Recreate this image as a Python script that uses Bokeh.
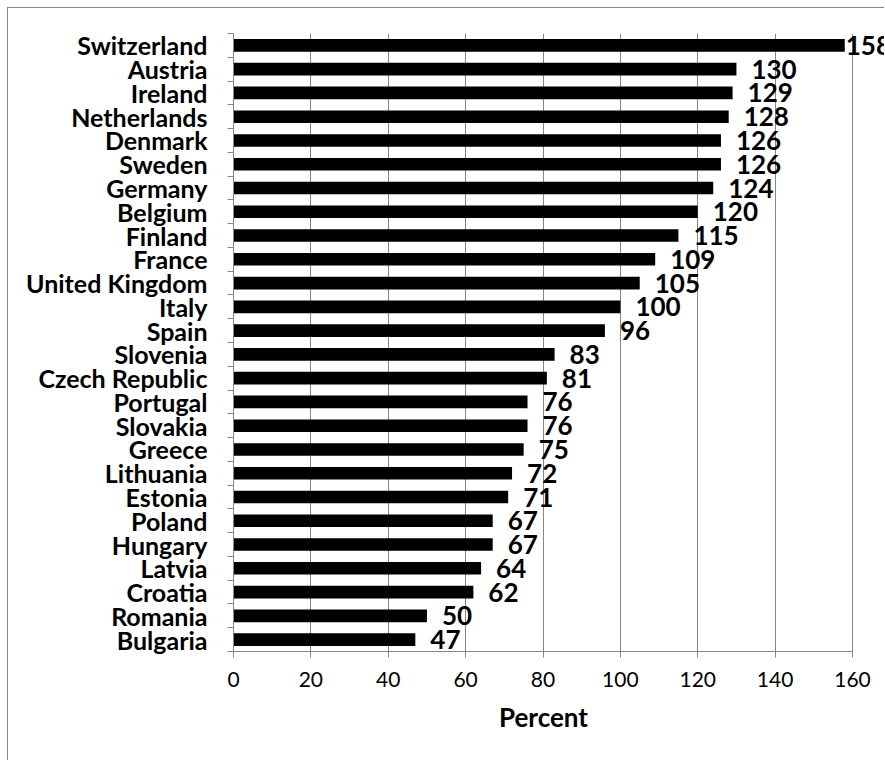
from bokeh.plotting import figure
from bokeh.models import ColumnDataSource, Range1d, FixedTicker, LabelSet, Title
from bokeh.core.properties import value
from bokeh.embed import file_html
from bokeh.resources import INLINE

countries = ["Switzerland", "Austria", "Ireland", "Netherlands", "Denmark",
             "Sweden", "Germany", "Belgium", "Finland", "France",
             "United Kingdom", "Italy", "Spain", "Slovenia", "Czech Republic",
             "Portugal", "Slovakia", "Greece", "Lithuania", "Estonia",
             "Poland", "Hungary", "Latvia", "Croatia", "Romania", "Bulgaria"]
values = [158, 130, 129, 128, 126, 126, 124, 120, 115, 109, 105, 100, 96,
          83, 81, 76, 76, 75, 72, 71, 67, 67, 64, 62, 50, 47]
x_ticks = [0, 20, 40, 60, 80, 100, 120, 140, 160]
x_label = "Percent"

n = len(countries)
ypos = [n - 1 - i for i in range(n)]  # first country at the top
label_off = [1 if v >= 150 else 15 for v in values]

src = ColumnDataSource(dict(country=countries, value=values, y=ypos,
                            txt=[str(v) for v in values], off=label_off))

# layout (pixels)
PAD = 8                      # offset of the outer chart-area border
W, H = 885 - PAD, 761 - PAD
L, T, B = 233 - PAD, 33 - PAD, 110
plot_w = 852 - 233           # width of the 0..160 span
xmax = x_ticks[-1]
x_end = xmax * (W - L) / plot_w   # frame runs to the right edge
XLABEL_HALF_W = 44           # approx. half width of the axis title text

p = figure(width=W, height=H, output_backend="svg", toolbar_location=None,
           x_range=Range1d(0, x_end), y_range=Range1d(-0.5, n - 0.5),
           min_border_left=L, min_border_right=0, min_border_top=T,
           min_border_bottom=B)
p.outline_line_color = None
p.background_fill_color = "white"
p.border_fill_color = "white"
p.styles = {"margin-left": f"{PAD - 1}px", "margin-top": f"{PAD - 1}px",
            "border-left": "1px solid #868686",
            "border-top": "1px solid #868686"}

p.hbar(y="y", right="value", left=0, height=0.53, source=src,
       fill_color="black", line_color=None)

labels = LabelSet(x="value", y="y", text="txt", source=src, x_offset="off",
                  text_baseline="middle", text_align="left",
                  text_font=value("Lato"), text_font_style="bold",
                  text_font_size="26px", text_color="black")
p.add_layout(labels)

axis_gray = "#868686"
# x axis
p.xaxis.ticker = FixedTicker(ticks=x_ticks)
p.xaxis.bounds = (0, xmax)
p.xaxis.axis_line_color = axis_gray
p.xaxis.major_tick_line_color = axis_gray
p.xaxis.major_tick_in = 0
p.xaxis.major_tick_out = 6
p.xaxis.minor_tick_line_color = None
p.xaxis.major_label_text_font = "Lato"
p.xaxis.major_label_text_font_size = "21px"
p.xaxis.major_label_text_color = "black"
p.xaxis.major_label_standoff = 14

# axis title, centred under the 0..160 span
xt = Title(text=x_label, align="left", text_font="Lato",
           text_font_style="bold", text_font_size="26px",
           text_color="black", standoff=19,
           offset=plot_w / 2 - XLABEL_HALF_W)
p.add_layout(xt, "below")

# y axis
p.yaxis.ticker = FixedTicker(ticks=ypos,
                             minor_ticks=[k - 0.5 for k in range(n + 1)])
p.yaxis.major_label_overrides = {y: c for y, c in zip(ypos, countries)}
p.yaxis.axis_line_color = axis_gray
p.yaxis.major_tick_line_color = None
p.yaxis.major_tick_in = 0
p.yaxis.major_tick_out = 0
p.yaxis.minor_tick_line_color = axis_gray
p.yaxis.minor_tick_in = 0
p.yaxis.minor_tick_out = 6
p.yaxis.major_label_text_font = "Lato"
p.yaxis.major_label_text_font_style = "bold"
p.yaxis.major_label_text_font_size = "25px"
p.yaxis.major_label_text_color = "black"
p.yaxis.major_label_standoff = 20

p.xgrid.ticker = FixedTicker(ticks=x_ticks)
p.xgrid.bounds = (0, xmax)
p.xgrid.grid_line_color = axis_gray
p.xgrid.grid_line_width = 1
p.ygrid.grid_line_color = None

open("out.html", "w").write(file_html(p, INLINE))
